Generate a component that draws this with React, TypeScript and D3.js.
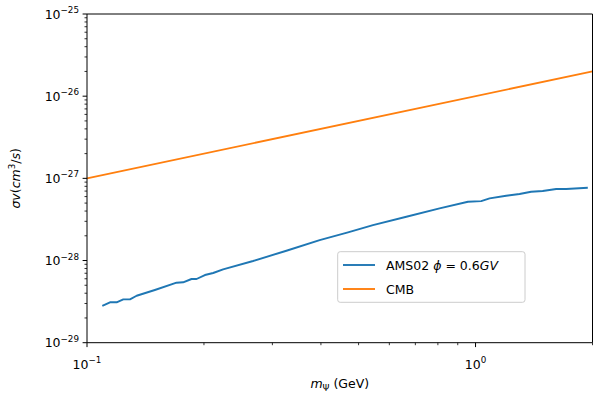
import React from "react";
import * as d3 from "d3";

const amsMass = [0.1095, 0.1146, 0.1192, 0.124, 0.129, 0.1342, 0.1495, 0.170, 0.1768, 0.1858, 0.1914, 0.2011, 0.2112, 0.224, 0.2676, 0.326, 0.397, 0.4696, 0.5445, 0.6636, 0.808, 0.956, 1.034, 1.087, 1.199, 1.298, 1.390, 1.489, 1.613, 1.711, 1.945];
const amsSigma = [2.80e-29, 3.10e-29, 3.10e-29, 3.37e-29, 3.37e-29, 3.73e-29, 4.38e-29, 5.37e-29, 5.43e-29, 5.96e-29, 5.96e-29, 6.66e-29, 7.05e-29, 7.82e-29, 9.86e-29, 1.316e-28, 1.775e-28, 2.20e-28, 2.70e-28, 3.41e-28, 4.32e-28, 5.19e-28, 5.29e-28, 5.71e-28, 6.14e-28, 6.44e-28, 6.87e-28, 7.01e-28, 7.41e-28, 7.41e-28, 7.69e-28];
const cmbMass = [0.1, 2];
const cmbSigma = [1e-27, 2e-26];
const xMajorTicks = [0.1, 1];
const xTickExps = ["−1", "0"];
const yMajorTicks = [1e-29, 1e-28, 1e-27, 1e-26, 1e-25];
const yTickExps = ["−29", "−28", "−27", "−26", "−25"];

const W = 593, H = 394;
const L = 87, R = 592.5, T = 14, B = 342.7;
const FONT = "DejaVu Sans, sans-serif";

export default function App() {
  const x = d3.scaleLog().domain([0.1, 2]).range([L, R]);
  const y = d3.scaleLog().domain([1e-29, 1e-25]).range([B, T]);
  const line = d3.line<[number, number]>().x(d => x(d[0])).y(d => y(d[1]));
  const ams = amsMass.map((m, i) => [m, amsSigma[i]] as [number, number]);
  const cmb = cmbMass.map((m, i) => [m, cmbSigma[i]] as [number, number]);

  const xMinor: number[] = [];
  for (const base of [0.1, 1]) for (let k = 2; k <= 9; k++) { const v = base * k; if (v <= 2.0001) xMinor.push(v); }
  const yMinor: number[] = [];
  for (const base of [1e-29, 1e-28, 1e-27, 1e-26]) for (let k = 2; k <= 9; k++) yMinor.push(base * k);

  const fs = 12.5;
  return (
    <svg width={W} height={H} style={{ position: "absolute", left: 0, top: 0, background: "#fff" }} fontFamily={FONT}>
      <rect x={0} y={0} width={W} height={H} fill="#fff" />
      <path d={line(cmb) || ""} fill="none" stroke="#ff7f0e" strokeWidth={1.9} />
      <path d={line(ams) || ""} fill="none" stroke="#1f77b4" strokeWidth={1.9} strokeLinejoin="round" />
      {/* spines */}
      <line x1={L} x2={L} y1={T} y2={B} stroke="#000" strokeWidth={1} />
      <line x1={L} x2={R} y1={B} y2={B} stroke="#000" strokeWidth={1} />
      <line x1={L} x2={R} y1={T} y2={T} stroke="#000" strokeWidth={1} />
      <line x1={R} x2={R} y1={T} y2={B} stroke="#000" strokeWidth={1} />
      {/* x ticks */}
      {xMajorTicks.map((t, i) => (
        <g key={"xm" + i}>
          <line x1={x(t)} x2={x(t)} y1={B} y2={B + 4.4} stroke="#000" strokeWidth={1} />
          <text x={x(t)} y={B + 26} fontSize={fs} textAnchor="middle" fill="#000">
            10<tspan dy={-5.5} fontSize={fs * 0.7}>{xTickExps[i]}</tspan>
          </text>
        </g>
      ))}
      {xMinor.map((t, i) => (
        <line key={"xn" + i} x1={x(t)} x2={x(t)} y1={B} y2={B + 2.5} stroke="#000" strokeWidth={0.8} />
      ))}
      {/* y ticks */}
      {yMajorTicks.map((t, i) => (
        <g key={"ym" + i}>
          <line x1={L - 4.4} x2={L} y1={y(t)} y2={y(t)} stroke="#000" strokeWidth={1} />
          <text x={L - 8} y={y(t) + 4.5} fontSize={fs} textAnchor="end" fill="#000">
            10<tspan dy={-5.5} fontSize={fs * 0.7}>{yTickExps[i]}</tspan>
          </text>
        </g>
      ))}
      {yMinor.map((t, i) => (
        <line key={"yn" + i} x1={L - 2.5} x2={L} y1={y(t)} y2={y(t)} stroke="#000" strokeWidth={0.8} />
      ))}
      {/* axis labels */}
      <text x={(L + R) / 2} y={388} fontSize={fs} textAnchor="middle" fill="#000">
        <tspan fontStyle="italic">m</tspan><tspan dy={3} fontSize={fs * 0.7}>Ψ</tspan><tspan dy={-3}> (GeV)</tspan>
      </text>
      <text transform={`translate(20, ${(T + B) / 2}) rotate(-90)`} fontSize={fs} textAnchor="middle" fill="#000">
        <tspan fontStyle="italic">σv</tspan>(<tspan fontStyle="italic">cm</tspan><tspan dy={-5} fontSize={fs * 0.7}>3</tspan><tspan dy={5}>/</tspan><tspan fontStyle="italic">s</tspan>)
      </text>
      {/* legend */}
      <rect x={337.7} y={251.7} width={187.3} height={50.6} rx={2.5} fill="#fff" fillOpacity={0.8} stroke="#cccccc" strokeWidth={1} />
      <line x1={343} x2={375} y1={265} y2={265} stroke="#1f77b4" strokeWidth={1.9} />
      <line x1={343} x2={375} y1={289} y2={289} stroke="#ff7f0e" strokeWidth={1.9} />
      <text x={386} y={269.5} fontSize={fs} fill="#000">
        AMS02 <tspan fontStyle="italic">ϕ</tspan> = 0.6<tspan fontStyle="italic">GV</tspan>
      </text>
      <text x={386} y={293.5} fontSize={fs} fill="#000">CMB</text>
    </svg>
  );
}
